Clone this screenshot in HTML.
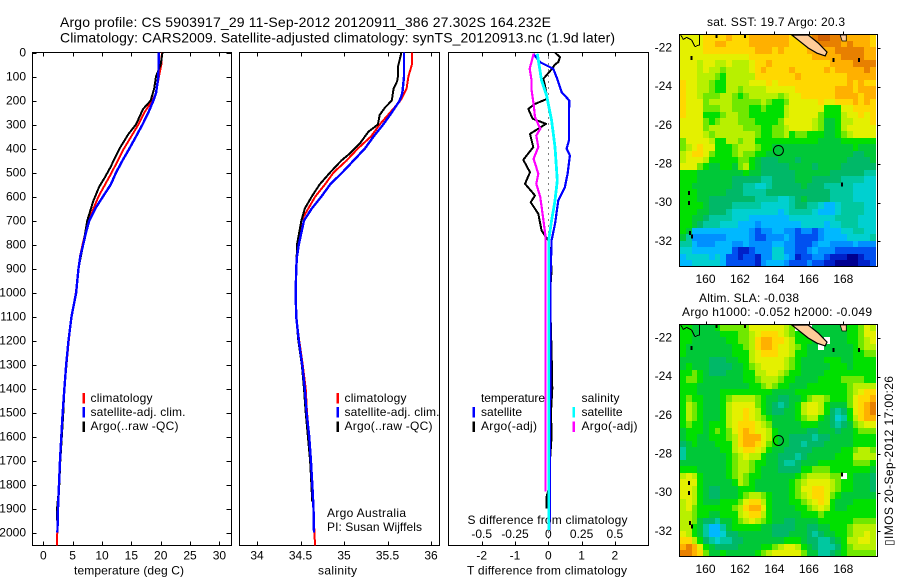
<!DOCTYPE html>
<html lang="en">
<head>
<meta charset="utf-8">
<title>Argo profile chart</title>
<style>
html,body{margin:0;padding:0;background:#fff;}
svg{display:block;font-family:"Liberation Sans",Arial,sans-serif;fill:#000;}
text{font-size:12px;fill:#000;}
.t14{font-size:14px;}
</style>
</head>
<body>
<svg id="chart" xmlns="http://www.w3.org/2000/svg" width="900" height="580" viewBox="0 0 900 580">
<rect x="0" y="0" width="900" height="580" fill="#fff" style="fill:#fff"></rect>
<text class="t14" x="60" y="27" textLength="491" lengthAdjust="spacing">Argo profile: CS 5903917_29 11-Sep-2012 20120911_386 27.302S 164.232E</text>
<text class="t14" x="60" y="42.5" textLength="555" lengthAdjust="spacing">Climatology: CARS2009. Satellite-adjusted climatology: synTS_20120913.nc (1.9d later)</text>
<text x="74" y="574.5" textLength="110" lengthAdjust="spacing">temperature (deg C)</text>
<text x="318" y="574.5" textLength="39" lengthAdjust="spacing">salinity</text>
<text x="467" y="574.5" textLength="160" lengthAdjust="spacing">T difference from climatology</text>
<text x="467.5" y="524" textLength="160" lengthAdjust="spacing">S difference from climatology</text>
<text x="90.5" y="402" textLength="62" lengthAdjust="spacing">climatology</text>
<text x="90.5" y="416" textLength="95" lengthAdjust="spacing">satellite-adj. clim.</text>
<text x="90.5" y="430" textLength="88" lengthAdjust="spacing">Argo(..raw -QC)</text>
<text x="344.5" y="402" textLength="62" lengthAdjust="spacing">climatology</text>
<text x="344.5" y="416" textLength="95" lengthAdjust="spacing">satellite-adj. clim.</text>
<text x="344.5" y="430" textLength="88" lengthAdjust="spacing">Argo(..raw -QC)</text>
<text x="327" y="517" textLength="79" lengthAdjust="spacing">Argo Australia</text>
<text x="327" y="531" textLength="95" lengthAdjust="spacing">PI: Susan Wijffels</text>
<text x="481" y="402" textLength="64" lengthAdjust="spacing">temperature</text>
<text x="481" y="416" textLength="41" lengthAdjust="spacing">satellite</text>
<text x="481" y="430" textLength="56" lengthAdjust="spacing">Argo(-adj)</text>
<text x="581.5" y="402" textLength="38" lengthAdjust="spacing">salinity</text>
<text x="581.5" y="416" textLength="41" lengthAdjust="spacing">satellite</text>
<text x="581.5" y="430" textLength="56" lengthAdjust="spacing">Argo(-adj)</text>
<text x="707" y="26" textLength="138" lengthAdjust="spacing">sat. SST: 19.7 Argo: 20.3</text>
<text x="699" y="302" textLength="100" lengthAdjust="spacing">Altim. SLA: -0.038</text>
<text x="682" y="316" textLength="190" lengthAdjust="spacing">Argo h1000: -0.052 h2000: -0.049</text>
<text transform="translate(893,546) rotate(-90)" x="0" y="0" textLength="170" lengthAdjust="spacing">&#9647;IMOS 20-Sep-2012 17:00:26</text>
<g id="layer"></g>
</svg>
<script>
/* ---------- tick labels ---------- */
const depthTicks = [0,100,200,300,400,500,600,700,800,900,1000,1100,1200,1300,1400,1500,1600,1700,1800,1900,2000];
const tempTicks = [0,5,10,15,20,25,30];
const salTicks = [34,34.5,35,35.5,36];
const tdiffTicks = [-2,-1,0,1,2];
const sdiffTicks = [-0.5,-0.25,0,0.25,0.5];
const lonTicks = [160,162,164,166,168];
const latTicks = [-22,-24,-26,-28,-30,-32];

/* ---------- temperature profiles (deg C) ---------- */
const tempClimDepth = [0,50,100,170,200,250,300,400,500,600,700,800,850,900,950,1000,1100,1200,1300,1400,1500,1600,1700,1800,1900,2000,2055];
const tempClim = [20.2,20.1,19.7,19.2,18.6,17.2,16.2,13.75,11.65,9.4,7.7,6.7,6.25,6,5.75,5.55,4.8,4.35,3.95,3.6,3.3,3.05,2.82,2.65,2.48,2.38,2.3];
const tempArgoDepth = [0,50,100,150,200,225,235,300,340,400,440,480,520,560,620,700,800,900,1000,1100,1200,1300,1400,1500,1600,1700,1800,1900,1950];
const tempArgo = [20.3,20,19.2,18.9,18.3,17.4,17,15.8,14.5,13,12.2,11.4,10.5,9.5,8.5,7.5,6.8,6,5.6,4.8,4.3,3.95,3.6,3.4,3.15,2.9,2.72,2.35,2.3];
const tempSatDepth = [0,100,170,200,250,300,350,400,450,500,550,600,650,700,750,800,850,900,950,1000,1100,1200,1300,1400,1500,1600,1700,1800,1900,2000];
const tempSat = [19.66,19.6,19.2,18.75,17.9,16.9,15.8,14.66,13.5,12.4,11.5,10.17,8.86,7.84,7.27,6.8,6.3,6,5.8,5.6,4.8,4.3,3.9,3.6,3.3,3.07,2.84,2.67,2.5,2.4];

/* ---------- salinity profiles (PSU) ---------- */
const salClimDepth = [0,50,100,150,200,250,300,350,400,450,500,550,600,650,700,750,800,900,1000,1100,1200,1300,1400,1500,1600,1700,1800,1900,2000,2055];
const salClim = [35.78,35.78,35.74,35.72,35.65,35.53,35.41,35.31,35.16,35.03,34.88,34.78,34.67,34.59,34.51,34.49,34.47,34.45,34.445,34.45,34.485,34.525,34.56,34.575,34.6,34.62,34.636,34.65,34.66,34.668];
const salArgoDepth = [0,30,60,100,120,150,200,230,260,300,330,380,420,450,500,550,600,650,700,800,850,1000,1100,1200,1300,1400,1500,1600,1700,1800,1870];
const salArgo = [35.66,35.64,35.62,35.62,35.61,35.57,35.55,35.47,35.41,35.39,35.28,35.18,35.07,34.97,34.84,34.72,34.63,34.55,34.51,34.46,34.456,34.44,34.45,34.475,34.515,34.54,34.56,34.585,34.61,34.625,34.635];
const salSatDepth = [0,100,170,200,250,300,350,400,450,500,550,600,650,700,750,800,850,900,1000,1100,1200,1300,1400,1500,1600,1700,1800,1900,2000];
const salSat = [35.69,35.69,35.67,35.64,35.55,35.45,35.34,35.24,35.11,34.98,34.84,34.74,34.63,34.54,34.51,34.48,34.46,34.45,34.445,34.45,34.48,34.52,34.55,34.57,34.6,34.62,34.636,34.65,34.655];

/* ---------- differences from climatology ---------- */
const tdiffArgoDepth = [0,20,40,50,70,110,137,193,214,235,276,297,339,394,447,499,547,596,624,672,742,783,850,908,1000,1100,1250,1400,1500,1600,1700,1800,1850,1900];
const tdiffArgo = [0.2,0.35,0.3,0.2,0.1,-0.15,-0.1,-0.03,-0.4,-0.6,-0.47,-0.07,-0.55,-0.45,-0.75,-0.55,-0.7,-0.4,-0.53,-0.3,-0.2,0,0.07,0.1,0.05,0.07,0.1,0.12,0.08,0.1,0.05,0.05,-0.05,-0.05];
const tdiffSatDepth = [5,40,68,103,165,200,283,367,401,429,505,561,617,714,783,922,1100,1300,1500,1700,1900,1990];
const tdiffSat = [-0.45,-0.25,0.15,0.25,0.4,0.63,0.62,0.62,0.55,0.65,0.58,0.5,0.3,0.2,0.1,0.07,0.06,0.07,0.05,0.05,0.05,0.03];
const sdiffArgoDepth = [5,68,117,158,214,269,318,346,394,443,505,547,603,686,769,850,1200,1500,1829];
const sdiffArgo = [-0.11,-0.14,-0.125,-0.125,-0.11,-0.1,-0.06,-0.09,-0.075,-0.11,-0.075,-0.09,-0.06,-0.04,-0.02,-0.02,-0.02,-0.02,-0.02];
const sdiffSatDepth = [5,117,179,283,394,533,617,700,783,1000,1400,1800,1990];
const sdiffSat = [-0.0825,-0.05,-0.0125,0.025,0.05,0.0675,0.05,0.025,0.003,0.003,0.003,0.003,0.003];

/* ---------- colour level of each 1/3-degree cell (north to south, west to east) ---------- */
const sstGrid = [
[12,12,12,12,13,13,13,13,14,13,13,13,14,14,14,14,14,14,14,13,13,13,14,15,16,16,15,15,14,14,14,14,14,13],
[12,12,12,12,13,13,14,14,13,13,13,13,14,14,14,14,14,14,14,13,13,13,14,15,15,15,15,15,14,15,14,14,14,13],
[12,12,12,12,13,13,13,13,13,13,13,13,13,14,14,14,13,14,13,13,13,13,14,14,14,14,14,15,15,15,15,15,14,14],
[12,12,12,12,12,12,12,12,12,12,12,12,13,13,13,13,13,13,13,13,13,13,13,14,14,14,14,14,15,15,15,15,14,14],
[12,12,12,11,12,12,11,11,12,11,11,11,12,13,13,14,13,13,13,13,13,13,13,13,13,13,14,14,14,14,15,15,15,15],
[12,12,12,11,12,11,11,10,11,11,11,11,12,13,14,13,13,13,13,14,13,13,13,13,13,14,13,14,14,14,14,14,15,14],
[12,12,12,11,11,11,10,9,11,11,11,11,11,13,13,13,13,13,13,13,14,13,13,13,13,13,13,13,13,14,14,14,14,14],
[13,12,12,11,11,10,9,9,11,11,11,11,12,12,12,13,12,13,13,13,13,13,13,13,13,13,13,13,13,14,13,14,13,13],
[13,12,12,11,11,10,9,9,11,11,10,11,11,11,11,12,12,12,12,12,13,13,13,13,13,13,13,14,14,14,13,14,14,14],
[13,12,12,11,10,10,10,11,11,10,9,10,11,11,11,11,11,10,11,12,12,13,13,13,13,13,13,14,14,14,14,13,14,14],
[13,12,12,12,10,11,11,11,11,10,10,10,10,10,11,10,9,9,10,12,12,12,12,12,13,12,12,13,13,13,14,13,14,13],
[13,12,12,12,10,10,10,11,11,10,10,10,9,9,10,9,9,9,11,12,12,12,12,12,12,9,9,9,12,12,13,13,13,13],
[13,12,12,12,9,9,9,10,11,11,10,10,9,9,9,9,9,9,11,12,12,12,12,12,10,9,9,9,11,12,12,13,12,13],
[12,12,12,12,10,9,10,11,11,11,10,10,10,9,9,9,9,10,12,12,12,12,12,11,10,8,8,9,11,11,12,12,12,13],
[12,12,12,12,10,11,11,11,11,11,11,10,10,10,9,9,10,10,11,12,12,12,12,11,10,8,8,9,11,12,12,12,12,12],
[12,12,12,12,11,10,11,11,11,11,11,11,11,10,9,9,10,10,11,9,10,10,9,9,9,8,8,9,10,11,12,12,12,12],
[10,12,12,12,12,11,9,9,11,11,10,11,11,9,9,9,9,9,9,9,9,9,9,9,8,8,8,8,9,9,9,9,9,9],
[10,11,12,13,12,12,9,9,9,10,11,11,11,10,9,9,8,8,8,8,8,8,8,8,8,8,8,8,8,8,9,8,8,8],
[11,12,13,13,12,10,9,9,9,10,11,10,10,9,9,8,8,8,8,8,8,8,8,8,8,8,8,8,8,8,7,7,8,8],
[11,12,12,12,11,9,9,9,9,9,10,10,9,8,7,7,7,8,8,8,7,8,8,8,8,8,8,8,8,7,7,7,7,8],
[12,12,12,10,9,8,8,9,9,8,10,11,9,8,7,7,7,7,7,8,8,8,8,7,8,8,8,8,7,7,7,7,7,7],
[9,9,9,8,8,8,8,8,8,8,8,9,8,8,7,7,7,7,7,7,8,8,8,8,8,8,7,7,7,7,7,7,6,6],
[9,9,9,8,8,8,8,8,8,7,7,7,7,7,6,6,7,7,7,7,8,8,8,7,7,7,7,7,6,6,6,6,5,5],
[9,9,8,8,8,8,8,8,8,7,7,6,6,5,5,6,7,7,7,7,7,8,7,7,7,6,6,6,6,6,5,5,5,5],
[9,9,9,8,8,8,8,8,7,7,7,6,6,6,6,7,7,7,7,7,7,7,7,7,7,7,6,6,6,6,5,5,5,5],
[9,9,9,8,8,7,7,7,7,7,7,7,7,6,6,6,6,5,5,6,7,8,7,7,7,7,6,6,6,6,5,5,5,5],
[9,9,9,9,8,7,7,7,7,6,6,6,6,6,5,5,5,5,5,6,7,7,6,6,5,4,4,5,6,6,6,6,5,5],
[9,9,9,8,8,7,7,7,6,5,5,5,5,5,5,5,5,4,5,6,6,6,6,5,4,4,4,5,6,6,6,6,5,5],
[9,9,8,8,7,6,6,6,6,5,5,5,4,4,4,4,4,4,4,5,5,5,5,5,5,5,5,6,6,6,6,5,5,5],
[9,9,8,7,6,6,6,5,5,5,4,4,4,3,4,4,4,4,4,4,4,5,5,5,5,4,5,5,6,6,6,5,5,5],
[9,8,4,4,4,4,4,4,4,4,4,4,3,2,3,3,4,4,3,3,2,3,3,2,3,4,4,4,5,5,6,6,5,5],
[8,6,3,3,3,3,3,3,4,4,4,4,3,2,2,3,3,3,4,3,2,2,2,2,3,4,4,4,4,5,5,5,5,6],
[6,6,4,3,3,3,4,4,4,3,3,4,3,3,3,3,4,4,3,3,2,2,2,3,4,4,3,3,3,3,4,3,3,3],
[5,5,4,4,4,4,4,4,4,2,1,1,2,3,3,3,5,5,3,3,2,2,3,4,3,3,3,2,2,2,2,2,2,2],
[4,5,5,5,5,4,5,4,2,2,1,2,2,1,3,3,5,5,4,3,1,2,2,3,3,2,1,1,1,0,0,1,2,2],
[4,4,5,5,5,5,5,4,2,2,2,2,2,1,3,4,4,4,3,2,2,2,3,2,2,1,1,0,0,0,0,1,1,2]
];
const slaGrid = [
[9,9,8,8,8,8,9,10,10,10,10,10,12,12,12,12,12,12,11,10,null,9,null,8,8,8,8,8,8,9,9,10,12,11],
[9,9,8,8,8,8,8,9,9,9,10,10,11,12,13,13,13,12,11,10,9,9,8,8,8,8,8,8,8,9,9,10,12,12],
[9,9,8,8,8,8,8,8,9,9,10,10,11,13,14,14,13,13,12,11,9,9,9,8,8,null,8,8,8,9,9,10,11,12],
[9,8,8,8,8,8,8,8,8,9,9,10,11,13,14,14,13,12,12,11,10,9,8,8,null,8,8,8,8,8,9,10,11,11],
[9,8,8,8,8,8,8,8,8,9,9,9,11,12,13,13,13,12,12,11,9,9,8,8,8,8,8,8,8,8,9,9,10,10],
[8,8,8,8,8,7,7,7,8,8,9,9,11,12,12,12,12,12,11,10,9,8,8,8,8,9,9,9,8,8,9,9,9,9],
[8,9,8,8,8,7,7,7,7,8,8,9,10,11,12,12,12,12,11,10,9,8,8,8,8,8,9,9,9,8,9,9,9,9],
[9,9,10,9,8,7,7,7,8,8,8,9,9,11,11,12,12,11,10,9,9,8,8,8,8,9,9,9,9,9,9,9,9,9],
[9,10,10,9,8,8,8,8,8,8,8,9,9,10,11,11,11,10,9,9,8,8,8,8,9,9,9,9,10,10,10,10,9,9],
[9,9,9,8,8,8,8,8,8,8,8,8,9,9,10,11,10,9,9,8,8,8,9,9,9,9,9,9,9,10,11,11,11,11],
[9,9,9,8,8,8,8,9,9,9,9,9,9,9,9,9,8,8,8,8,9,9,9,9,9,9,9,9,9,10,11,12,13,13],
[9,10,9,9,8,8,8,9,10,11,11,11,11,10,9,8,8,7,7,8,8,9,10,11,11,10,9,9,9,10,12,13,13,14],
[9,11,10,9,8,8,8,9,11,12,12,12,12,10,9,8,7,6,7,8,9,11,12,12,11,9,8,8,8,10,12,13,14,15],
[9,11,10,9,8,8,8,9,11,12,12,13,12,11,9,8,7,7,8,8,9,11,12,12,11,9,7,6,7,9,12,13,14,15],
[9,11,10,9,8,8,8,9,11,12,12,13,12,11,10,9,8,8,8,8,9,10,11,11,9,8,7,5,6,9,11,13,14,14],
[9,10,9,9,8,9,9,9,11,12,13,13,13,12,11,10,8,8,8,8,8,9,9,9,8,8,7,6,7,8,10,11,12,12],
[8,9,9,9,8,9,10,9,10,12,13,14,13,12,12,11,9,8,8,8,8,8,7,7,8,8,8,7,8,8,9,10,10,10],
[8,9,9,8,8,9,9,9,10,11,13,14,14,14,12,11,9,8,8,7,7,7,7,6,7,7,8,8,8,8,9,9,9,9],
[7,8,9,8,8,8,9,9,9,11,13,14,14,13,12,10,9,8,8,7,7,6,7,7,7,8,8,8,8,8,9,9,9,9],
[6,8,8,8,8,8,8,9,9,11,12,13,13,12,11,9,8,8,7,7,7,7,7,8,8,8,8,8,9,9,10,11,11,10],
[6,8,8,8,8,8,8,8,9,10,11,12,11,11,9,8,8,7,7,7,6,7,8,8,8,8,8,9,9,9,11,11,11,11],
[8,8,8,8,8,8,8,8,9,10,11,11,10,9,9,8,8,7,6,6,7,8,8,8,9,9,9,9,9,9,10,10,10,9],
[9,9,9,8,8,8,8,8,9,10,11,11,10,9,8,8,8,7,7,7,7,9,9,10,10,10,9,9,9,9,9,9,9,8],
[11,12,11,9,8,8,8,8,9,10,11,10,9,9,8,8,8,8,8,8,9,10,11,11,11,11,10,10,null,9,8,8,8,7],
[12,12,12,9,8,8,8,8,8,9,11,10,9,8,8,8,8,8,8,9,10,11,12,12,12,12,11,10,9,9,8,8,8,7],
[12,12,11,9,8,7,7,8,8,8,9,9,9,8,8,8,8,8,8,9,10,12,12,13,13,12,11,10,9,9,8,8,8,7],
[12,12,11,9,8,7,7,8,8,8,9,10,11,11,10,9,8,8,8,9,10,11,12,13,13,12,10,9,8,8,8,8,8,8],
[11,12,11,9,8,8,8,9,9,9,10,12,13,13,11,9,8,8,8,9,9,10,11,12,13,12,9,8,8,8,9,9,9,9],
[11,12,10,9,9,9,9,9,9,10,11,13,14,14,12,9,8,8,8,8,9,9,10,11,12,11,9,8,8,9,9,9,9,9],
[11,11,10,9,9,8,8,9,9,9,11,12,13,13,11,9,8,8,8,8,8,9,9,9,10,9,9,9,9,9,9,9,9,9],
[11,11,10,8,7,7,6,8,8,9,10,11,12,11,10,9,8,8,7,7,8,8,8,8,9,9,9,9,9,9,10,10,10,10],
[11,11,9,8,6,4,4,6,8,9,9,9,9,9,8,8,7,7,7,7,8,8,7,7,8,8,9,9,9,10,11,11,11,11],
[12,11,9,8,6,4,4,5,7,7,8,8,8,8,8,8,7,7,7,8,8,8,7,6,7,8,8,9,9,10,11,11,12,11],
[13,13,11,9,7,6,5,6,6,7,7,8,8,8,8,8,8,8,9,9,9,8,7,7,6,6,7,8,9,11,11,12,12,11],
[14,15,14,12,9,8,7,7,7,7,8,8,8,8,9,9,10,11,12,12,11,9,8,7,6,6,6,7,9,10,11,11,11,11],
[15,15,14,13,10,8,8,9,8,8,8,8,8,9,10,11,12,12,12,12,12,10,8,8,6,6,7,8,9,10,10,10,10,10]
];
const levelColors = ['#000090','#0020c8','#0050f0','#0090ff','#00b8ff','#00d0d0','#00c8a0','#00b868','#00c838','#00e000','#70e800','#b8f000','#e4f000','#ffd800','#ffb000','#e88000','#d06000'];

/* ---------- land (lon/lat) and the float position ---------- */
const islandLon = [165.01,165.96,166.54,167.05,166.95,166.47,165.96];
const islandLat = [-21.33,-21.33,-21.74,-22.21,-22.41,-22.27,-22.0];
const isletLon = [167.82,168.17,168.17,167.93];
const isletLat = [-21.33,-21.33,-21.64,-21.64];
const coastLon = [158.56,158.71,158.91,159.2,159.39,159.64,159.64];
const coastLat = [-21.33,-21.55,-21.45,-21.59,-21.93,-21.84,-21.33];
const reefLon = [159.2,160.65,162.3,167.44,168.9,159.04,159.04,159.1,159.23,167.92];
const reefLat = [-22.52,-21.38,-21.38,-22.62,-22.62,-29.49,-30.02,-31.57,-31.76,-29.05];
const floatLon = 164.232;
const floatLat = -27.302;

/* ---------- axis functions ---------- */
const NS = 'http://www.w3.org/2000/svg';
const layer = document.getElementById('layer');
function yDepth(d){ return 52.5 + d * 0.24; }
function xTemp(v){ return 43.3 + v * 5.87; }
function xSal(v){ return 257 + (v - 34) * 87; }
function xTdiff(v){ return 548.3 + v * 33.3; }
function xSdiff(v){ return 548.3 + v * 133.2; }
function xLon(v){ return 705.5 + (v - 160) * 17.23; }
function yLat(v, top){ return top + 13.5 + (-22 - v) * 19.33; }

function make(tag, attrs, parent){
  const el = document.createElementNS(NS, tag);
  for (const k in attrs) el.setAttribute(k, attrs[k]);
  (parent || layer).appendChild(el);
  return el;
}
function tick(x1, y1, x2, y2, name){
  const el = make('line', {x1:x1, y1:y1, x2:x2, y2:y2, stroke:'#000', 'stroke-width':1, 'shape-rendering':'crispEdges'});
  
  
}
function label(x, y, str, anchor, name){
  const el = make('text', {x:x, y:y, 'text-anchor':anchor});
  el.textContent = str;
  
  
}
function frame(x, y, w, h, name){
  const el = make('rect', {x:x, y:y, width:w, height:h, fill:'none', stroke:'#000', 'stroke-width':1, 'shape-rendering':'crispEdges'});
  el.style.fill = 'none';
  
  
}
function profile(xFn, depths, values, color, width, name){
  const pts = depths.map(function(d, i){ return xFn(values[i]).toFixed(1) + ',' + yDepth(d).toFixed(1); }).join(' ');
  const el = make('polyline', {points:pts, fill:'none', stroke:color, 'stroke-width':width, 'shape-rendering':'crispEdges', 'stroke-linejoin':'round'});
  el.style.fill = 'none';
  
  
}
function legendBar(x, y, color, name){
  const el = make('rect', {x:x, y:y, width:2.6, height:10.5, 'shape-rendering':'crispEdges'});
  el.style.fill = color;
  
  
}

/* ---------- profile panels ---------- */
const PTOP = 52.5, PBOT = 545.5;
function xAxis(ticks, xFn, labelY, fmt, name){
  ticks.forEach(function(t){
    const x = Math.round(xFn(t)) + 0.5;
    tick(x, PBOT, x, PBOT - 4, name + '-tick');
    tick(x, PTOP, x, PTOP + 4, name + '-top-tick');
    if (labelY) label(xFn(t), labelY, fmt(t), 'middle', name + '-tick-label');
  });
}
function fmtPlain(v){ return String(v); }

frame(32.5, PTOP, 199, 493, 'temperature-panel-frame');
frame(239.5, PTOP, 200, 493, 'salinity-panel-frame');
frame(448.5, PTOP, 200, 493, 'difference-panel-frame');

depthTicks.forEach(function(d){
  const y = Math.round(yDepth(d)) + 0.5;
  tick(32.5, y, 36.5, y, 'depth-left-tick');
  tick(226.5, y, 231.5, y, 'depth-right-tick');
  label(26, yDepth(d) + 4, String(d), 'end', 'depth-tick-label');
});
xAxis(tempTicks, xTemp, 559.5, fmtPlain, 'temperature-axis');
xAxis(salTicks, xSal, 559.5, fmtPlain, 'salinity-axis');
xAxis(tdiffTicks, xTdiff, 559.5, fmtPlain, 't-difference-axis');
sdiffTicks.forEach(function(s){
  label(xSdiff(s), 538, String(s), 'middle', 's-difference-tick-label');
});

profile(xTemp, tempClimDepth, tempClim, '#ff0000', 2, 'temperature-climatology-line');
profile(xTemp, tempArgoDepth, tempArgo, '#000000', 2, 'temperature-argo-line');
profile(xTemp, tempSatDepth, tempSat, '#0000ff', 2.4, 'temperature-satellite-line');

profile(xSal, salClimDepth, salClim, '#ff0000', 2, 'salinity-climatology-line');
profile(xSal, salArgoDepth, salArgo, '#000000', 2, 'salinity-argo-line');
profile(xSal, salSatDepth, salSat, '#0000ff', 2.4, 'salinity-satellite-line');

const zeroLine = make('line', {x1:xTdiff(0), y1:yDepth(20), x2:xTdiff(0), y2:yDepth(2040), stroke:'#000', 'stroke-width':1, 'stroke-dasharray':'1 5', 'shape-rendering':'crispEdges'});


profile(xTdiff, tdiffArgoDepth, tdiffArgo, '#000000', 2, 't-difference-argo-line');
profile(xTdiff, tdiffSatDepth, tdiffSat, '#0000ff', 2.2, 't-difference-satellite-line');
profile(xSdiff, sdiffArgoDepth, sdiffArgo, '#ff00ff', 2.2, 's-difference-argo-line');
profile(xSdiff, sdiffSatDepth, sdiffSat, '#00ffff', 2.8, 's-difference-satellite-line');

legendBar(82.5, 393, '#ff0000', 'legend-climatology-swatch');
legendBar(82.5, 407, '#0000ff', 'legend-satellite-swatch');
legendBar(82.5, 421.5, '#000000', 'legend-argo-swatch');
legendBar(336.5, 393, '#ff0000', 'salinity-legend-climatology-swatch');
legendBar(336.5, 407, '#0000ff', 'salinity-legend-satellite-swatch');
legendBar(336.5, 421.5, '#000000', 'salinity-legend-argo-swatch');
legendBar(472.5, 407, '#0000ff', 'legend-t-satellite-swatch');
legendBar(472.5, 421.5, '#000000', 'legend-t-argo-swatch');
legendBar(572.5, 407, '#00ffff', 'legend-s-satellite-swatch');
legendBar(572.5, 421.5, '#ff00ff', 'legend-s-argo-swatch');

/* ---------- maps ---------- */
function drawMap(grid, top, name){
  const cw = 5.75, ch = 232 / 36, left = 680;
  grid.forEach(function(row, r){
    row.forEach(function(level, c){
      if (level === null) return;
      const x = Math.round(left + c * cw), x2 = Math.round(left + (c + 1) * cw);
      const y = Math.round(top + r * ch), y2 = Math.round(top + (r + 1) * ch);
      const cell = make('rect', {x:x, y:y, width:x2 - x, height:y2 - y, 'shape-rendering':'crispEdges'});
      cell.style.fill = levelColors[level];
      
      
    });
  });
  const ptsOf = function(lons, lats){
    return lons.map(function(lon, i){ return xLon(lon).toFixed(1) + ',' + yLat(lats[i], top).toFixed(1); }).join(' ');
  };
  const island = make('polygon', {points:ptsOf(islandLon, islandLat), stroke:'#000', 'stroke-width':1.2});
  island.style.fill = '#ffcc99';
  
  
  const islet = make('polygon', {points:ptsOf(isletLon, isletLat), stroke:'#000', 'stroke-width':0.8});
  islet.style.fill = '#ffcc99';
  
  
  const coast = make('polyline', {points:ptsOf(coastLon, coastLat), stroke:'#000', 'stroke-width':1, 'shape-rendering':'crispEdges'});
  coast.style.fill = 'none';
  
  
  reefLon.forEach(function(lon, i){
    const reef = make('rect', {x:xLon(lon) - 1, y:yLat(reefLat[i], top) - 2, width:2, height:4, 'shape-rendering':'crispEdges'});
    reef.style.fill = '#000';
    
    
  });
  const marker = make('circle', {cx:xLon(floatLon), cy:yLat(floatLat, top), r:5, stroke:'#000', 'stroke-width':1});
  marker.style.fill = 'none';
  
  
  frame(679.5, top, 198, 232, name + '-frame');
  lonTicks.forEach(function(lon){
    const x = Math.round(xLon(lon)) + 0.5;
    tick(x, top - 3, x, top, name + '-lon-tick');
    label(xLon(lon), top + 232 + 16.5, String(lon), 'middle', name + '-lon-label');
  });
  latTicks.forEach(function(lat){
    const y = Math.round(yLat(lat, top)) + 0.5;
    tick(877.5, y, 880.5, y, name + '-lat-tick');
    label(672, yLat(lat, top) + 3.5, String(lat), 'end', name + '-lat-label');
  });
}
drawMap(sstGrid, 34.5, 'sst-map');
drawMap(slaGrid, 324.5, 'sla-map');
</script>
</body>
</html>
